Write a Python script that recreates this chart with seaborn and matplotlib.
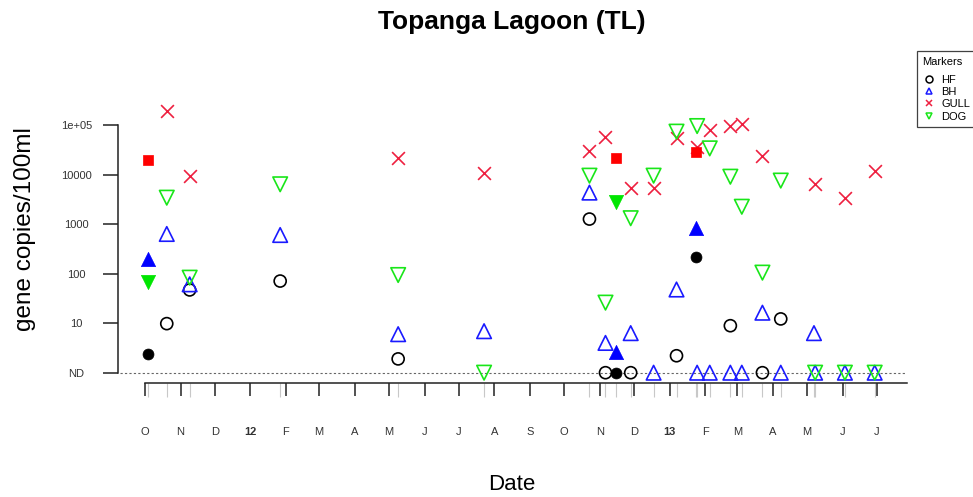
import numpy as np
import pandas as pd
import matplotlib
matplotlib.use("Agg")
import matplotlib.pyplot as plt
import matplotlib.dates as mdates
from matplotlib.lines import Line2D
import seaborn as sns

ND = 1.0          # non-detects are drawn on the baseline (10^0)
nan = np.nan

# Routine samples (open markers)
sample_dates = ["2011-10-20", "2011-11-09", "2012-01-27", "2012-05-09", "2012-07-23",
                "2012-10-23", "2012-11-06", "2012-11-28", "2012-12-18", "2013-01-07",
                "2013-01-25", "2013-02-05", "2013-02-23", "2013-03-05", "2013-03-23",
                "2013-04-08", "2013-05-07", "2013-05-08", "2013-06-03", "2013-06-29"]
hf = [9.8, 47, 71, 1.9, nan, 1270, ND, ND, nan, 2.2,
      nan, nan, 8.9, nan, ND, 12.2, nan, nan, nan, nan]
bh = [635, 61, 605, 6.0, 6.9, 4350, 4.0, 6.3, ND, 48,
      ND, ND, ND, ND, 16.3, ND, 6.3, ND, ND, ND]
gull = [196000, 9400, nan, 21500, 11000, 30500, 57000, 5300, 5300, 54000,
        35500, 80000, 96000, 105000, 24000, nan, nan, 6500, 3350, 11800]
dog = [3430, 83, 6400, 94, ND, 9550, 26, 1320, 9550, 74000,
       96000, 34000, 9100, 2250, 105, 7600, nan, ND, ND, ND]

# Storm-event samples (filled markers)
event_dates = ["2011-10-04", "2012-11-15", "2013-01-24"]
event_hf = [2.35, ND, 220]
event_bh = [195, 2.65, 830]
event_gull = [19500, 21500, 29000]
event_dog = [69, 2850, nan]

month_labels = ["O", "N", "D", "12", "F", "M", "A", "M", "J", "J", "A", "S",
                "O", "N", "D", "13", "F", "M", "A", "M", "J", "J"]
ytick_values = [1, 10, 100, 1000, 10000, 100000]
ytick_labels = ["ND", "10", "100", "1000", "10000", "1e+05"]

markers = ["HF", "BH", "GULL", "DOG"]
colors = {"HF": "#000000", "BH": "#1a1aff", "GULL": "#ee2040", "DOG": "#19e619"}
fill_colors = {"HF": "#000000", "BH": "#0000ff", "GULL": "#ff0000", "DOG": "#00e600"}
open_style = {"HF": ("o", 75), "BH": ("^", 110), "GULL": ("x", 85), "DOG": ("v", 110)}
filled_style = {"HF": ("o", 62), "BH": ("^", 105), "GULL": ("s", 62), "DOG": ("v", 105)}

routine = pd.DataFrame({"date": pd.to_datetime(sample_dates),
                        "HF": hf, "BH": bh, "GULL": gull, "DOG": dog})
events = pd.DataFrame({"date": pd.to_datetime(event_dates),
                       "HF": event_hf, "BH": event_bh, "GULL": event_gull, "DOG": event_dog})
routine_long = routine.melt(id_vars="date", var_name="marker", value_name="copies").dropna()
events_long = events.melt(id_vars="date", var_name="marker", value_name="copies").dropna()

sns.set_style("white")
plt.rcParams["font.family"] = ["Liberation Sans", "DejaVu Sans"]
plt.rcParams["text.color"] = "black"

W, H = 973, 497
fig = plt.figure(figsize=(W / 100, H / 100), dpi=100)
# axes box in pixel terms: x 118..910, y 95..383
ax = fig.add_axes([118 / W, 1 - 383 / H, (910 - 118) / W, (383 - 95) / H])
ax.set_yscale("log")

start = mdates.date2num(pd.Timestamp("2011-10-01"))
px_per_day = 1.1455
ax.set_xlim(start - 27 / px_per_day, start + 765 / px_per_day)
ax.set_ylim(10 ** (-10.3 / 49.5), 10 ** (277.7 / 49.5))

# baseline for non-detects
ax.hlines(ND, start - 25 / px_per_day, start + 760 / px_per_day,
          colors="#666666", linestyles=(0, (2, 2)), linewidth=0.8, zorder=1)

for m in markers:
    mk, s = open_style[m]
    sub = routine_long[routine_long["marker"] == m]
    if mk == "x":
        sns.scatterplot(data=sub, x="date", y="copies", marker=mk, s=s,
                        color=colors[m], linewidth=1.2, ax=ax, zorder=3)
    else:
        sns.scatterplot(data=sub, x="date", y="copies", marker=mk, s=s,
                        facecolor="none", edgecolor=colors[m], linewidth=1.2,
                        ax=ax, zorder=3)
    mk, s = filled_style[m]
    sub = events_long[events_long["marker"] == m]
    sns.scatterplot(data=sub, x="date", y="copies", marker=mk, s=s,
                    color=fill_colors[m], edgecolor=fill_colors[m], linewidth=0.5,
                    ax=ax, zorder=3)

# rug of sampling dates under the time axis
all_dates = mdates.date2num(pd.concat([routine["date"], events["date"]]))
ax.vlines(all_dates, -0.048, 0, transform=ax.get_xaxis_transform(),
          colors="#c8c8c8", linewidth=0.8, clip_on=False)

# axes styling
for side in ["top", "right"]:
    ax.spines[side].set_visible(False)
for side in ["left", "bottom"]:
    ax.spines[side].set_color("#222222")
    ax.spines[side].set_linewidth(1.1)
ax.spines["left"].set_bounds(1, 100000)
ax.spines["bottom"].set_bounds(start, start + 762 / px_per_day)

month_starts = pd.date_range("2011-10-01", periods=len(month_labels), freq="MS")
ax.set_xticks(mdates.date2num(month_starts))
ax.set_xticklabels(month_labels)
ax.tick_params(axis="x", length=9.5, width=1.1, color="#222222", pad=22,
               labelsize=8, labelcolor="#333333", direction="out", bottom=True)
for lbl in ax.get_xticklabels():
    if lbl.get_text() in ("12", "13"):
        lbl.set_fontweight("bold")

ax.set_yticks(ytick_values)
ax.set_yticklabels(ytick_labels)
ax.yaxis.set_minor_locator(matplotlib.ticker.NullLocator())
ax.tick_params(axis="y", length=10.8, width=1.1, color="#222222", pad=19,
               labelsize=8, labelcolor="#333333", direction="out", left=True)
for lbl in ax.get_yticklabels():
    lbl.set_horizontalalignment("center")

ax.set_xlabel("")
ax.set_ylabel("")
ax.grid(False)

fig.text(512 / W, 1 - 22 / H, "Topanga Lagoon (TL)", ha="center", va="center",
         fontsize=19, fontweight="bold", color="black")
fig.text(25 / W, 1 - 229 / H, "gene copies/100ml", ha="center", va="center",
         rotation=90, fontsize=17.5, color="black")
fig.text(512 / W, 1 - 484 / H, "Date", ha="center", va="center", fontsize=16,
         color="black")

handles = []
for m in markers:
    mk, _ = open_style[m]
    if mk == "x":
        h = Line2D([], [], marker=mk, ls="", color=colors[m], ms=5, mew=1.1)
    else:
        h = Line2D([], [], marker=mk, ls="", mfc="none", mec=colors[m], ms=5, mew=1.1)
    handles.append(h)
leg = fig.legend(handles, markers, title="Markers", loc="upper left",
                 bbox_to_anchor=(917 / W, 1 - 51 / H), fontsize=8, title_fontsize=8,
                 frameon=True, fancybox=False, edgecolor="#111111",
                 handlelength=1.2, handletextpad=0.5, labelspacing=0.2,
                 borderpad=0.5, borderaxespad=0, alignment="left")
leg._legend_box.sep = 6
leg.get_frame().set_linewidth(0.9)

fig.savefig("out.png", dpi=100)
